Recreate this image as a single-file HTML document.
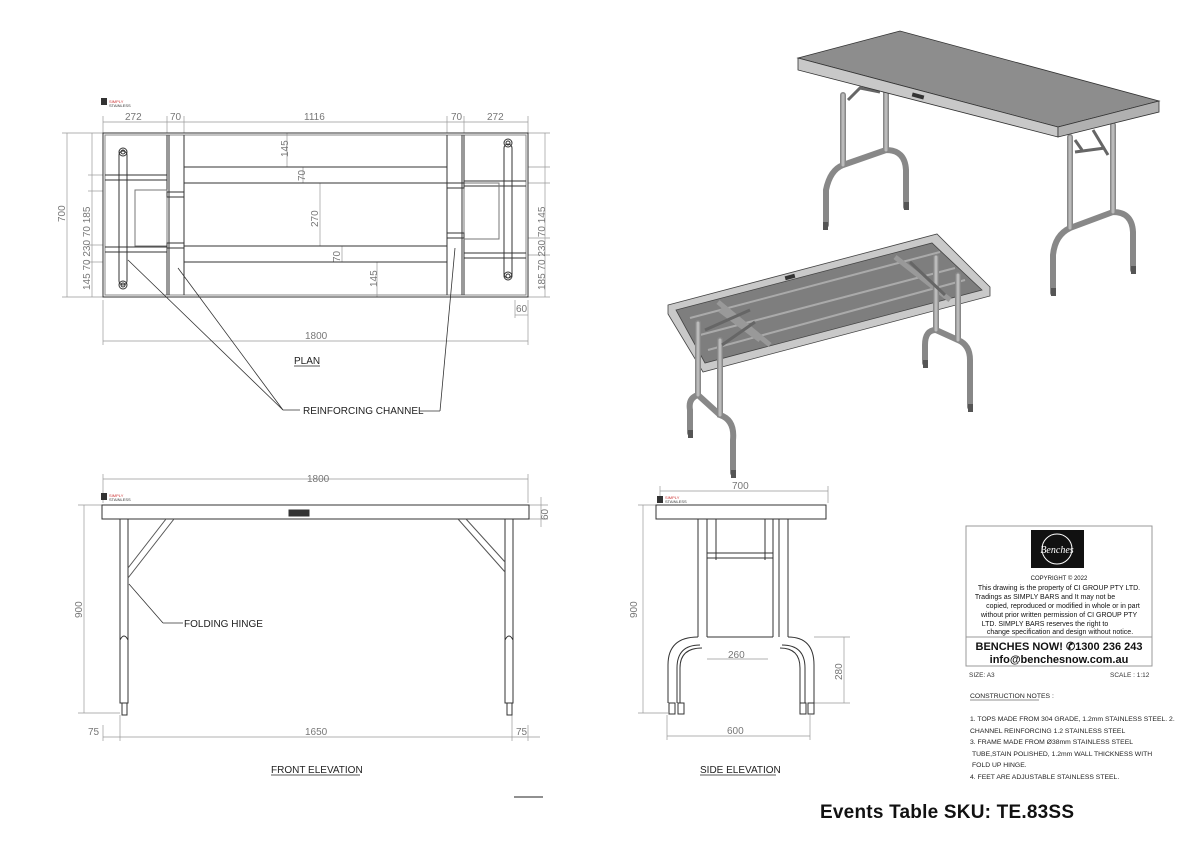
<!DOCTYPE html>
<html><head><meta charset="utf-8"><style>
html,body{margin:0;padding:0;background:#fff;}
svg{display:block;font-family:"Liberation Sans",sans-serif;}
.d{stroke:#999;stroke-width:0.7;fill:none}
.l{stroke:#333;stroke-width:1;fill:none}
.t{fill:#777;font-size:10px}
.k{fill:#222;font-size:10px}
.tube{stroke:#888;stroke-width:6;fill:none;stroke-linecap:round}
.tubei{stroke:#bbb;stroke-width:3;fill:none;stroke-linecap:round}
</style></head><body>
<svg width="1200" height="848" viewBox="0 0 1200 848">
<!-- PLAN -->
<rect x="101" y="98" width="6" height="7" fill="#333"/><text x="109" y="103" font-size="4" fill="#c33">SIMPLY</text><text x="109" y="107" font-size="4" fill="#333">STAINLESS</text>
<g class="d">
<line x1="103" y1="122" x2="528" y2="122"/>
<line x1="103" y1="116" x2="103" y2="133"/><line x1="167" y1="116" x2="167" y2="133"/><line x1="184" y1="116" x2="184" y2="133"/><line x1="447" y1="116" x2="447" y2="133"/><line x1="464" y1="116" x2="464" y2="133"/><line x1="528" y1="116" x2="528" y2="133"/>
<line x1="67" y1="133" x2="67" y2="297"/><line x1="62" y1="133" x2="103" y2="133"/><line x1="62" y1="297" x2="103" y2="297"/>
<line x1="92" y1="133" x2="92" y2="297"/><line x1="88" y1="175" x2="103" y2="175"/><line x1="88" y1="191" x2="103" y2="191"/><line x1="88" y1="245" x2="103" y2="245"/><line x1="88" y1="262" x2="103" y2="262"/>
<line x1="545" y1="133" x2="545" y2="297"/><line x1="528" y1="133" x2="550" y2="133"/><line x1="528" y1="297" x2="550" y2="297"/><line x1="528" y1="167" x2="550" y2="167"/><line x1="528" y1="183" x2="550" y2="183"/><line x1="528" y1="238" x2="550" y2="238"/><line x1="528" y1="255" x2="550" y2="255"/>
<line x1="103" y1="300" x2="103" y2="345"/><line x1="528" y1="300" x2="528" y2="345"/><line x1="103" y1="341" x2="528" y2="341"/>
<line x1="515" y1="315" x2="528" y2="315"/><line x1="515" y1="300" x2="515" y2="318"/>
<line x1="287" y1="133" x2="287" y2="167"/><line x1="303" y1="167" x2="303" y2="183"/><line x1="320" y1="183" x2="320" y2="246"/><line x1="342" y1="246" x2="342" y2="262"/><line x1="377" y1="262" x2="377" y2="297"/>
</g>
<g class="t">
<text x="125" y="120">272</text><text x="170" y="120">70</text><text x="304" y="120">1116</text><text x="451" y="120">70</text><text x="487" y="120">272</text>
<text x="305" y="339">1800</text><text x="516" y="312">60</text>
<text transform="translate(65,222) rotate(-90)">700</text>
<text transform="translate(90,290) rotate(-90)">145 70 230 70 185</text>
<text transform="translate(545,290) rotate(-90)">185 70 230 70 145</text>
<text transform="translate(288,157) rotate(-90)">145</text><text transform="translate(305,181) rotate(-90)">70</text><text transform="translate(318,227) rotate(-90)">270</text><text transform="translate(340,262) rotate(-90)">70</text><text transform="translate(377,287) rotate(-90)">145</text>
</g>
<g class="l">
<rect x="103" y="133" width="425" height="164"/>
<rect x="105" y="135" width="421" height="160" stroke="#888"/>
<line x1="167" y1="135" x2="167" y2="295"/><line x1="169" y1="135" x2="169" y2="295"/><line x1="184" y1="135" x2="184" y2="295"/>
<line x1="447" y1="135" x2="447" y2="295"/><line x1="462" y1="135" x2="462" y2="295"/><line x1="464" y1="135" x2="464" y2="295"/>
<line x1="184" y1="167" x2="447" y2="167"/><line x1="184" y1="183" x2="447" y2="183"/><line x1="184" y1="246" x2="447" y2="246"/><line x1="184" y1="262" x2="447" y2="262"/>
<line x1="105" y1="175" x2="167" y2="175"/><line x1="105" y1="180" x2="167" y2="180"/><line x1="105" y1="247" x2="167" y2="247"/><line x1="105" y1="252" x2="167" y2="252"/>
<line x1="464" y1="181" x2="526" y2="181"/><line x1="464" y1="186" x2="526" y2="186"/><line x1="464" y1="253" x2="526" y2="253"/><line x1="464" y1="258" x2="526" y2="258"/>
<rect x="135" y="190" width="32" height="56" stroke="#777"/><rect x="464" y="183" width="35" height="56" stroke="#777"/>
<rect x="167" y="192" width="17" height="5"/><rect x="167" y="243" width="17" height="5"/><rect x="447" y="183" width="17" height="5"/><rect x="447" y="233" width="17" height="5"/>
<rect x="119" y="151" width="8" height="134" rx="4"/><rect x="504" y="144" width="8" height="134" rx="4"/>
<circle cx="123" cy="152" r="4"/><circle cx="123" cy="152" r="2"/><circle cx="123" cy="285" r="4"/><circle cx="123" cy="285" r="2"/>
<circle cx="508" cy="143" r="4"/><circle cx="508" cy="143" r="2"/><circle cx="508" cy="276" r="4"/><circle cx="508" cy="276" r="2"/>
<line x1="283" y1="410" x2="128" y2="260" stroke-width="0.8"/><line x1="283" y1="410" x2="178" y2="268" stroke-width="0.8"/><line x1="283" y1="410" x2="300" y2="410" stroke-width="0.8"/>
<line x1="420" y1="411" x2="440" y2="411" stroke-width="0.8"/><line x1="440" y1="411" x2="455" y2="248" stroke-width="0.8"/>
</g>
<text x="294" y="364" class="k">PLAN</text><line x1="294" y1="366" x2="320" y2="366" stroke="#222" stroke-width="0.7"/>
<text x="303" y="414" class="k">REINFORCING CHANNEL</text>

<!-- FRONT ELEVATION -->
<g class="d">
<line x1="103" y1="479" x2="528" y2="479"/><line x1="103" y1="474" x2="103" y2="503"/><line x1="528" y1="474" x2="528" y2="503"/>
<line x1="84" y1="505" x2="84" y2="713"/><line x1="78" y1="505" x2="103" y2="505"/><line x1="78" y1="713" x2="120" y2="713"/>
<line x1="541" y1="497" x2="541" y2="527"/><line x1="528" y1="505" x2="548" y2="505"/><line x1="528" y1="519" x2="548" y2="519"/>
<line x1="103" y1="737" x2="540" y2="737"/><line x1="103" y1="725" x2="103" y2="741"/><line x1="120" y1="715" x2="120" y2="741"/><line x1="512" y1="715" x2="512" y2="741"/><line x1="528" y1="725" x2="528" y2="741"/>
</g>
<g class="t"><text x="307" y="482">1800</text><text x="305" y="735">1650</text><text x="88" y="735">75</text><text x="516" y="735">75</text><text transform="translate(82,618) rotate(-90)">900</text><text transform="translate(548,520) rotate(-90)">60</text></g>
<rect x="101" y="493" width="6" height="7" fill="#333"/><text x="109" y="497" font-size="4" fill="#c33">SIMPLY</text><text x="109" y="501" font-size="4" fill="#333">STAINLESS</text>
<g class="l">
<rect x="102" y="505" width="427" height="14"/>
<rect x="289" y="510" width="20" height="6" fill="#333"/>
<rect x="120" y="519" width="8" height="184"/><rect x="505" y="519" width="8" height="184"/>
<rect x="122" y="703" width="5" height="12"/><rect x="507" y="703" width="5" height="12"/>
<path d="M120 640 Q124 632 128 640 M505 640 Q509 632 513 640"/>
<path d="M166 519 L128 568 M174 519 L128 578" stroke="#555"/>
<path d="M458 519 L505 572 M466 519 L505 562" stroke="#555"/>
<line x1="129" y1="584" x2="163" y2="623" stroke-width="0.8"/><line x1="163" y1="623" x2="183" y2="623" stroke-width="0.8"/>
</g>
<text x="184" y="627" class="k">FOLDING HINGE</text>
<text x="271" y="773" class="k">FRONT ELEVATION</text><line x1="271" y1="775" x2="360" y2="775" stroke="#222" stroke-width="0.7"/>
<line x1="514" y1="797" x2="543" y2="797" stroke="#222" stroke-width="1"/>

<!-- SIDE ELEVATION -->
<g class="d">
<line x1="660" y1="491" x2="828" y2="491"/><line x1="660" y1="486" x2="660" y2="503"/><line x1="828" y1="486" x2="828" y2="503"/>
<line x1="643" y1="505" x2="643" y2="713"/><line x1="638" y1="505" x2="656" y2="505"/><line x1="638" y1="713" x2="668" y2="713"/>
<line x1="707" y1="659" x2="768" y2="659"/>
<line x1="844" y1="637" x2="844" y2="703"/><line x1="814" y1="637" x2="850" y2="637"/><line x1="814" y1="703" x2="850" y2="703"/>
<line x1="667" y1="736" x2="810" y2="736"/><line x1="667" y1="715" x2="667" y2="740"/><line x1="810" y1="715" x2="810" y2="740"/>
</g>
<g class="t"><text x="732" y="489">700</text><text x="728" y="658">260</text><text x="727" y="734">600</text><text transform="translate(637,618) rotate(-90)">900</text><text transform="translate(842,680) rotate(-90)">280</text></g>
<rect x="657" y="496" width="6" height="7" fill="#333"/><text x="665" y="499" font-size="4" fill="#c33">SIMPLY</text><text x="665" y="503" font-size="4" fill="#333">STAINLESS</text>
<g class="l">
<rect x="656" y="505" width="170" height="14"/>
<line x1="698" y1="519" x2="698" y2="637"/><line x1="707" y1="519" x2="707" y2="637"/><line x1="716" y1="519" x2="716" y2="560"/><line x1="765" y1="519" x2="765" y2="560"/><line x1="773" y1="519" x2="773" y2="637"/><line x1="779" y1="519" x2="779" y2="637"/><line x1="788" y1="519" x2="788" y2="637"/>
<rect x="707" y="553" width="66" height="5"/>
<line x1="707" y1="637" x2="773" y2="637"/>
<path d="M668 703 L668 665 Q668 637 698 637 M677 703 L677 668 Q677 645 700 645 M814 703 L814 665 Q814 637 788 637 M805 703 L805 668 Q805 645 782 645 M680 703 L680 668 Q680 648 702 648 M800 703 L800 668 Q800 648 780 648"/>
<rect x="669" y="703" width="6" height="11"/><rect x="678" y="703" width="6" height="11"/><rect x="800" y="703" width="6" height="11"/><rect x="808" y="703" width="6" height="11"/>
</g>
<text x="700" y="773" class="k">SIDE ELEVATION</text><line x1="700" y1="775" x2="776" y2="775" stroke="#222" stroke-width="0.7"/>

<!-- 3D upper table -->
<g>
<path class="tube" d="M843 95 L843 165 Q830 170 826 190 L826 225 M886 93 L886 150 Q905 150 906 170 L906 207 M843 165 L886 150"/>
<path class="tube" d="M1070 137 L1070 228 Q1055 235 1053 255 L1053 293 M1113 125 L1113 212 Q1132 212 1133 232 L1133 270 M1070 228 L1113 212"/>
<path class="tubei" d="M843 95 L843 165 M886 93 L886 150 M1070 137 L1070 228 M1113 125 L1113 212"/>
<path d="M848 100 L860 88 L880 92 M1075 140 L1082 150 M1093 130 L1108 155 M1075 152 L1105 148" stroke="#666" stroke-width="3" fill="none"/>
<polygon points="798,58 900,31 1159,101 1058,127" fill="#8d8d8d" stroke="#333" stroke-width="0.8"/>
<polygon points="798,58 1058,127 1058,137 798,70" fill="#c8c8c8" stroke="#333" stroke-width="0.8"/>
<polygon points="1058,127 1159,101 1159,112 1058,137" fill="#b0b0b0" stroke="#333" stroke-width="0.8"/>
<rect x="912" y="94" width="12" height="4" fill="#333" transform="rotate(15 918 96)"/>
<rect x="823" y="222" width="5" height="8" fill="#555"/><rect x="904" y="202" width="5" height="8" fill="#555"/><rect x="1051" y="288" width="5" height="8" fill="#555"/><rect x="1131" y="266" width="5" height="8" fill="#555"/>
</g>
<!-- 3D lower table -->
<g>
<polygon points="668,305 937,234 990,287 990,296 703,372 668,314" fill="#c9c9c9" stroke="#444" stroke-width="0.8"/>
<polygon points="676,310 932,243 982,290 705,363" fill="#7e7e7e" stroke="#444" stroke-width="0.8"/>
<path d="M690 318 L940 252 M700 335 L955 268 M708 350 L965 280" stroke="#aaa" stroke-width="2"/>
<path d="M718 302 L770 345 M895 257 L950 300 M720 310 L760 340" stroke="#999" stroke-width="5"/>
<rect x="785" y="275" width="10" height="4" fill="#333" transform="rotate(-15 790 277)"/>
<path class="tube" d="M698 323 L698 395 Q688 398 690 410 L690 433 M720 340 L720 415 Q735 420 733 440 L733 473 M698 395 L720 415"/>
<path class="tube" d="M936 257 L936 330 Q925 330 925 345 L925 363 M958 275 L958 340 Q970 345 970 360 L970 407 M936 330 L958 340"/>
<path class="tubei" d="M698 323 L698 395 M720 340 L720 415 M936 257 L936 330 M958 275 L958 340"/>
<path d="M705 330 L750 310 M722 345 L755 322 M910 262 L945 295" stroke="#666" stroke-width="3" fill="none"/>
<rect x="688" y="430" width="5" height="8" fill="#555"/><rect x="731" y="470" width="5" height="8" fill="#555"/><rect x="923" y="360" width="5" height="8" fill="#555"/><rect x="968" y="404" width="5" height="8" fill="#555"/>
</g>

<!-- TITLE BLOCK -->
<rect x="966" y="526" width="186" height="140" fill="none" stroke="#999" stroke-width="1"/>
<line x1="966" y1="637" x2="1152" y2="637" stroke="#999" stroke-width="1"/>
<rect x="1031" y="530" width="53" height="38" fill="#111"/>
<circle cx="1057" cy="549" r="15" fill="none" stroke="#fff" stroke-width="1"/>
<text x="1057" y="553" font-size="10" fill="#fff" text-anchor="middle" font-family="Liberation Serif,serif" font-style="italic">Benches</text>
<g font-size="7" fill="#111" text-anchor="middle">
<text x="1059" y="580" font-size="6">COPYRIGHT © 2022</text>
<text x="1059" y="590">This drawing is the property of CI GROUP PTY LTD.</text>
<text x="1045" y="599">Tradings as SIMPLY BARS and It may not be</text>
<text x="1063" y="608">copied, reproduced or modified in whole or in part</text>
<text x="1059" y="617">without prior written permission of CI GROUP PTY</text>
<text x="1045" y="626">LTD. SIMPLY BARS reserves the right to</text>
<text x="1060" y="634">change specification and design without notice.</text>
</g>
<text x="1059" y="650" font-size="11" font-weight="bold" fill="#111" text-anchor="middle">BENCHES NOW!  ✆1300 236 243</text>
<text x="1059" y="663" font-size="11" font-weight="bold" fill="#111" text-anchor="middle">info@benchesnow.com.au</text>
<text x="969" y="677" font-size="6.5" fill="#333">SIZE: A3</text><text x="1110" y="677" font-size="6.5" fill="#333">SCALE : 1:12</text>
<g font-size="6.8" fill="#222">
<text x="970" y="698">CONSTRUCTION NOTES :</text>
<text x="970" y="721">1. TOPS MADE FROM 304 GRADE, 1.2mm STAINLESS STEEL. 2.</text>
<text x="970" y="733">CHANNEL REINFORCING 1.2 STAINLESS STEEL</text>
<text x="970" y="744">3. FRAME MADE FROM Ø38mm STAINLESS STEEL</text>
<text x="972" y="756">TUBE,STAIN POLISHED, 1.2mm WALL THICKNESS WITH</text>
<text x="972" y="767">FOLD UP HINGE.</text>
<text x="970" y="779">4. FEET ARE ADJUSTABLE STAINLESS STEEL.</text>
</g>
<line x1="970" y1="700" x2="1039" y2="700" stroke="#222" stroke-width="0.5"/>
<text x="820" y="818" font-size="19" font-weight="bold" fill="#111" textLength="254">Events Table SKU: TE.83SS</text>
</svg>
</body></html>
